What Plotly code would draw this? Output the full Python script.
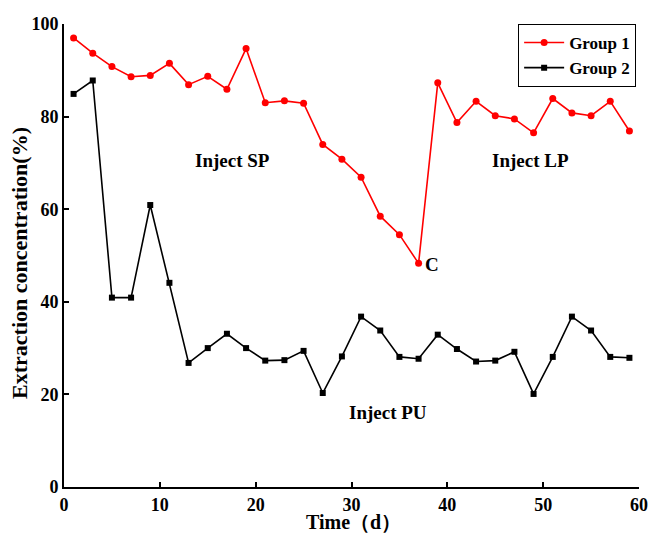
import plotly.graph_objects as go

days = [1, 3, 5, 7, 9, 11, 13, 15, 17, 19, 21, 23, 25, 27, 29, 31, 33, 35, 37, 39,
        41, 43, 45, 47, 49, 51, 53, 55, 57, 59]
group1 = [97.0, 93.7, 90.8, 88.6, 88.9, 91.5, 86.9, 88.7, 85.9, 94.7, 83.0, 83.4, 82.9,
          74.0, 70.8, 66.9, 58.5, 54.5, 48.3, 87.3, 78.7, 83.3, 80.2, 79.5, 76.5, 83.9,
          80.8, 80.2, 83.3, 76.9]
group2 = [84.9, 87.8, 40.9, 40.9, 60.9, 44.1, 26.8, 30.0, 33.1, 30.0, 27.3, 27.4, 29.4,
          20.3, 28.2, 36.8, 33.8, 28.1, 27.7, 32.9, 29.8, 27.1, 27.3, 29.2, 20.1, 28.1,
          36.8, 33.8, 28.1, 27.9]
x_ticks = [0, 10, 20, 30, 40, 50, 60]
y_ticks = [0, 20, 40, 60, 80, 100]

SERIF = "Liberation Serif, Times New Roman, serif"

fig = go.Figure()
fig.add_trace(go.Scatter(
    x=days, y=group1, mode="lines+markers", name="Group 1",
    line=dict(color="#ff0000", width=1.6),
    marker=dict(symbol="circle", size=7, color="#ff0000"),
))
fig.add_trace(go.Scatter(
    x=days, y=group2, mode="lines+markers", name="Group 2",
    line=dict(color="#000000", width=1.6),
    marker=dict(symbol="square", size=6, color="#000000"),
))

ann_font = dict(family=SERIF, size=19, color="black", weight="bold")
annotations = [
    dict(x=17.6, y=70.6, text="Inject SP", showarrow=False, font=ann_font),
    dict(x=48.7, y=70.6, text="Inject LP", showarrow=False, font=ann_font),
    dict(x=33.8, y=16.0, text="Inject PU", showarrow=False, font=ann_font),
    dict(x=37.5, y=48.0, text="C", showarrow=False, font=ann_font, xanchor="left"),
    # axis titles
    dict(xref="paper", yref="paper", x=0.504, y=-0.1032, text="Time（d）",
         showarrow=False, xanchor="center", yanchor="bottom",
         font=dict(family=SERIF, size=20, color="black", weight="bold")),
    dict(xref="paper", yref="paper", x=-0.0765, y=0.484, text="Extraction concentration(%)",
         showarrow=False, textangle=-90, xanchor="center", yanchor="middle",
         font=dict(family=SERIF, size=22, color="black", weight="bold")),
]

fig.update_layout(
    width=648, height=535,
    margin=dict(l=64, r=9, t=24, b=48, autoexpand=False),
    paper_bgcolor="white", plot_bgcolor="white",
    showlegend=True,
    legend=dict(
        x=0.995, y=1.0, xanchor="right", yanchor="top",
        bordercolor="black", borderwidth=1, bgcolor="white",
        font=dict(family=SERIF, size=17, color="black", weight="bold"),
        tracegroupgap=0, itemwidth=40,
    ),
    annotations=annotations,
    xaxis=dict(
        range=[0, 60], tickvals=x_ticks, showgrid=False, zeroline=False,
        showline=True, linecolor="black", linewidth=2,
        ticks="inside", ticklen=5, tickwidth=2, tickcolor="black",
        tickfont=dict(family=SERIF, size=18, color="black", weight="bold"),
    ),
    yaxis=dict(
        range=[0, 100], tickvals=y_ticks, showgrid=False, zeroline=False,
        showline=True, linecolor="black", linewidth=2,
        ticks="inside", ticklen=5, tickwidth=2, tickcolor="black",
        tickfont=dict(family=SERIF, size=18, color="black", weight="bold"),
    ),
)

fig.write_html("out.html", config={"displayModeBar": False},
               post_script="document.body.style.margin='0';")
